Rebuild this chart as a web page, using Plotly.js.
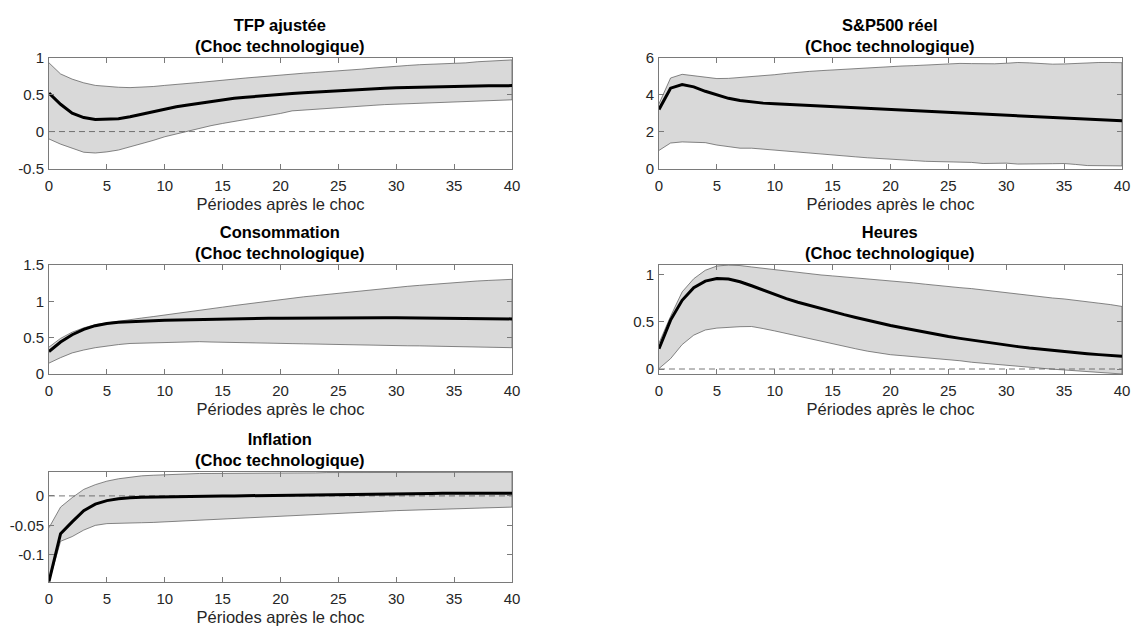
<!DOCTYPE html>
<html>
<head>
<meta charset="utf-8">
<script src="https://cdn.plot.ly/plotly-3.0.1.min.js"></script>
<style>
  html, body { margin: 0; padding: 0; background: #ffffff; }
  #chart { width: 1131px; height: 629px; }
</style>
</head>
<body>
<div id="chart"></div>
<script>
// Horizon in periods after the shock
const periods = [0,1,2,3,4,5,6,7,8,9,10,11,12,13,14,15,16,17,18,19,20,21,22,23,24,25,26,27,28,29,30,31,32,33,34,35,36,37,38,39,40];
const xTicks = [0,5,10,15,20,25,30,35,40];
const zeroX = [0, 40];
const zeroY = [0, 0];

// TFP ajustée
const tfpMed = [0.52,0.37,0.25,0.19,0.165,0.165,0.175,0.2,0.235,0.27,0.305,0.335,0.36,0.385,0.41,0.43,0.45,0.465,0.48,0.495,0.505,0.515,0.525,0.535,0.545,0.555,0.565,0.572,0.58,0.587,0.593,0.598,0.603,0.607,0.61,0.613,0.616,0.618,0.62,0.621,0.622];
const tfpHi  = [0.93,0.78,0.71,0.66,0.625,0.61,0.6,0.595,0.6,0.61,0.625,0.635,0.65,0.665,0.68,0.7,0.71,0.725,0.74,0.755,0.77,0.78,0.79,0.8,0.81,0.82,0.83,0.845,0.86,0.875,0.885,0.895,0.905,0.91,0.915,0.92,0.93,0.945,0.955,0.96,0.97];
const tfpLo  = [-0.1,-0.17,-0.23,-0.28,-0.29,-0.275,-0.25,-0.2,-0.16,-0.12,-0.07,-0.03,0.01,0.045,0.08,0.11,0.135,0.165,0.195,0.22,0.245,0.28,0.295,0.305,0.315,0.325,0.335,0.345,0.355,0.365,0.375,0.385,0.39,0.395,0.4,0.405,0.41,0.415,0.42,0.425,0.43];

// S&P500 réel
const spMed = [3.2,4.35,4.55,4.42,4.18,3.97,3.8,3.68,3.6,3.54,3.5,3.47,3.44,3.41,3.38,3.35,3.32,3.29,3.26,3.23,3.2,3.17,3.13,3.1,3.07,3.03,3.0,2.97,2.94,2.91,2.88,2.85,2.82,2.79,2.76,2.73,2.7,2.67,2.64,2.61,2.58];
const spHi  = [3.5,4.9,5.1,5.03,4.95,4.87,4.88,4.92,4.97,5.02,5.08,5.15,5.22,5.26,5.3,5.34,5.38,5.42,5.46,5.5,5.53,5.55,5.57,5.6,5.65,5.7,5.69,5.68,5.66,5.67,5.7,5.74,5.72,5.68,5.65,5.66,5.7,5.73,5.74,5.74,5.73];
const spLo  = [0.98,1.38,1.44,1.44,1.4,1.27,1.18,1.1,1.1,1.04,0.99,0.96,0.9,0.84,0.78,0.72,0.68,0.63,0.58,0.53,0.49,0.46,0.43,0.39,0.35,0.33,0.34,0.33,0.27,0.27,0.29,0.24,0.23,0.24,0.26,0.27,0.22,0.16,0.15,0.15,0.14];

// Consommation
const conMed = [0.31,0.44,0.54,0.615,0.665,0.695,0.712,0.722,0.728,0.734,0.739,0.743,0.747,0.75,0.753,0.756,0.759,0.762,0.764,0.766,0.768,0.77,0.771,0.772,0.773,0.774,0.775,0.775,0.775,0.775,0.775,0.774,0.773,0.772,0.77,0.768,0.766,0.764,0.762,0.76,0.758];
const conHi  = [0.37,0.49,0.575,0.635,0.68,0.705,0.727,0.75,0.77,0.79,0.81,0.83,0.855,0.877,0.9,0.92,0.942,0.963,0.985,1.007,1.028,1.045,1.062,1.078,1.095,1.11,1.127,1.145,1.16,1.178,1.193,1.207,1.22,1.233,1.245,1.257,1.27,1.28,1.288,1.296,1.303];
const conLo  = [0.15,0.225,0.29,0.33,0.362,0.385,0.405,0.42,0.428,0.43,0.43,0.435,0.44,0.445,0.44,0.435,0.432,0.43,0.427,0.424,0.42,0.418,0.415,0.412,0.41,0.407,0.404,0.4,0.397,0.394,0.39,0.388,0.387,0.386,0.385,0.384,0.38,0.375,0.37,0.366,0.362];

// Heures
const hMed = [0.215,0.52,0.73,0.865,0.935,0.962,0.957,0.928,0.885,0.838,0.79,0.748,0.71,0.675,0.64,0.61,0.578,0.548,0.518,0.49,0.462,0.438,0.413,0.39,0.367,0.346,0.326,0.307,0.288,0.27,0.253,0.238,0.223,0.21,0.197,0.185,0.173,0.163,0.153,0.144,0.135];
const hHi  = [0.275,0.56,0.82,0.96,1.05,1.095,1.105,1.1,1.085,1.07,1.055,1.04,1.025,1.012,1.0,0.99,0.98,0.97,0.958,0.948,0.938,0.927,0.915,0.902,0.888,0.872,0.865,0.855,0.84,0.828,0.817,0.8,0.785,0.768,0.755,0.745,0.732,0.718,0.7,0.685,0.665];
const hLo  = [0.005,0.11,0.26,0.36,0.415,0.435,0.443,0.45,0.452,0.43,0.405,0.38,0.355,0.325,0.295,0.268,0.243,0.215,0.19,0.17,0.152,0.142,0.132,0.122,0.11,0.1,0.088,0.072,0.06,0.05,0.042,0.032,0.02,0.008,-0.002,-0.01,-0.018,-0.026,-0.034,-0.043,-0.053];

// Inflation
const infMed = [-0.145,-0.064,-0.044,-0.025,-0.014,-0.008,-0.005,-0.003,-0.0025,-0.002,-0.0018,-0.0015,-0.0012,-0.0009,-0.0006,-0.0003,0.0,0.0003,0.0007,0.001,0.0014,0.0017,0.002,0.0023,0.0026,0.0029,0.0031,0.0033,0.0035,0.0037,0.0039,0.004,0.0041,0.0042,0.0043,0.0044,0.0044,0.0045,0.0045,0.0045,0.0045];
const infHi  = [-0.054,-0.019,-0.003,0.011,0.019,0.025,0.029,0.032,0.034,0.035,0.036,0.037,0.037,0.038,0.038,0.038,0.038,0.039,0.039,0.039,0.039,0.039,0.039,0.039,0.0395,0.0395,0.0395,0.0395,0.0395,0.0395,0.04,0.04,0.04,0.04,0.04,0.04,0.04,0.04,0.04,0.04,0.04];
const infLo  = [-0.146,-0.077,-0.069,-0.058,-0.05,-0.047,-0.0465,-0.046,-0.0455,-0.045,-0.0445,-0.044,-0.043,-0.042,-0.041,-0.04,-0.039,-0.038,-0.037,-0.036,-0.035,-0.034,-0.033,-0.032,-0.031,-0.03,-0.029,-0.028,-0.027,-0.026,-0.025,-0.0245,-0.024,-0.023,-0.0225,-0.022,-0.021,-0.0205,-0.02,-0.0195,-0.019];

const panelNames = ['TFP ajustée', 'S&P500 réel', 'Consommation', 'Heures', 'Inflation'];
const subTitle = '(Choc technologique)';
const xLabel = 'Périodes après le choc';

const FONT = 'Liberation Sans, Arial, Helvetica, sans-serif';
const AX_COLOR = '#7a7a7a';
const TXT_COLOR = '#262626';
const TICK_SIZE = 15;
const LABEL_SIZE = 16.5;

// panel layout: axis suffix, domains, y range, y ticks, zero line
const panels = [
  {s: '',  med: tfpMed, hi: tfpHi, lo: tfpLo, xd: [0.04332, 0.45270], yd: [0.73211, 0.90827], yr: [-0.5, 1], yt: [-0.5, 0, 0.5, 1], yl: ['-0.5', '0', '0.5', '1'], zero: true},
  {s: '2', med: spMed,  hi: spHi,  lo: spLo,  xd: [0.58267, 0.99204], yd: [0.73211, 0.90827], yr: [0, 6], yt: [0, 2, 4, 6], yl: ['0', '2', '4', '6'], zero: false},
  {s: '3', med: conMed, hi: conHi, lo: conLo, xd: [0.04332, 0.45270], yd: [0.40541, 0.57870], yr: [0, 1.5], yt: [0, 0.5, 1, 1.5], yl: ['0', '0.5', '1', '1.5'], zero: false},
  {s: '4', med: hMed,   hi: hHi,   lo: hLo,   xd: [0.58267, 0.99204], yd: [0.40541, 0.57870], yr: [-0.053, 1.106], yt: [0, 0.5, 1], yl: ['0', '0.5', '1'], zero: true},
  {s: '5', med: infMed, hi: infHi, lo: infLo, xd: [0.04332, 0.45270], yd: [0.07472, 0.24960], yr: [-0.146, 0.0405], yt: [-0.1, -0.05, 0], yl: ['-0.1', '-0.05', '0'], zero: true}
];

const traces = [];
const layout = {
  width: 1131,
  height: 629,
  margin: {l: 0, r: 0, t: 0, b: 0},
  paper_bgcolor: '#ffffff',
  plot_bgcolor: '#ffffff',
  showlegend: false,
  font: {family: FONT, size: TICK_SIZE, color: TXT_COLOR},
  annotations: []
};

panels.forEach((p, i) => {
  const xa = 'x' + p.s, ya = 'y' + p.s;
  const revX = periods.slice().reverse();
  // shaded confidence band with thin outline
  traces.push({
    type: 'scatter', mode: 'lines', xaxis: xa, yaxis: ya,
    x: periods.concat(revX),
    y: p.hi.concat(p.lo.slice().reverse()),
    fill: 'toself', fillcolor: '#d9d9d9',
    line: {color: '#555555', width: 0.7},
    hoverinfo: 'skip'
  });
  if (p.zero) {
    traces.push({
      type: 'scatter', mode: 'lines', xaxis: xa, yaxis: ya,
      x: zeroX, y: zeroY,
      line: {color: '#555555', width: 0.8, dash: '6px,4px'},
      hoverinfo: 'skip'
    });
  }
  // median response
  traces.push({
    type: 'scatter', mode: 'lines', xaxis: xa, yaxis: ya,
    x: periods, y: p.med,
    line: {color: '#000000', width: 3},
    hoverinfo: 'skip'
  });

  const common = {
    showgrid: false, zeroline: false, showline: true, mirror: 'ticks',
    linecolor: AX_COLOR, linewidth: 1,
    ticks: 'inside', ticklen: 5, tickcolor: AX_COLOR, tickwidth: 1,
    tickfont: {family: FONT, size: TICK_SIZE, color: TXT_COLOR},
    fixedrange: true
  };
  layout['xaxis' + p.s] = Object.assign({}, common, {
    domain: p.xd, anchor: ya, range: [0, 40],
    tickmode: 'array', tickvals: xTicks, ticktext: xTicks.map(String),
    ticklabelstandoff: 3,
    title: {text: xLabel, font: {family: FONT, size: LABEL_SIZE, color: TXT_COLOR}, standoff: 5}
  });
  layout['yaxis' + p.s] = Object.assign({}, common, {
    domain: p.yd, anchor: xa, range: p.yr,
    tickmode: 'array', tickvals: p.yt, ticktext: p.yl,
    ticklabelstandoff: 1
  });
  layout.annotations.push({
    xref: xa + ' domain', yref: ya + ' domain', x: 0.5, y: 1,
    xanchor: 'center', yanchor: 'bottom', yshift: 1, showarrow: false,
    align: 'center',
    text: '<b>' + panelNames[i] + '</b><br><b>' + subTitle + '</b>',
    font: {family: FONT, size: LABEL_SIZE, color: '#000000'}
  });
});

Plotly.newPlot('chart', traces, layout, {displayModeBar: false, staticPlot: true});
</script>
</body>
</html>
